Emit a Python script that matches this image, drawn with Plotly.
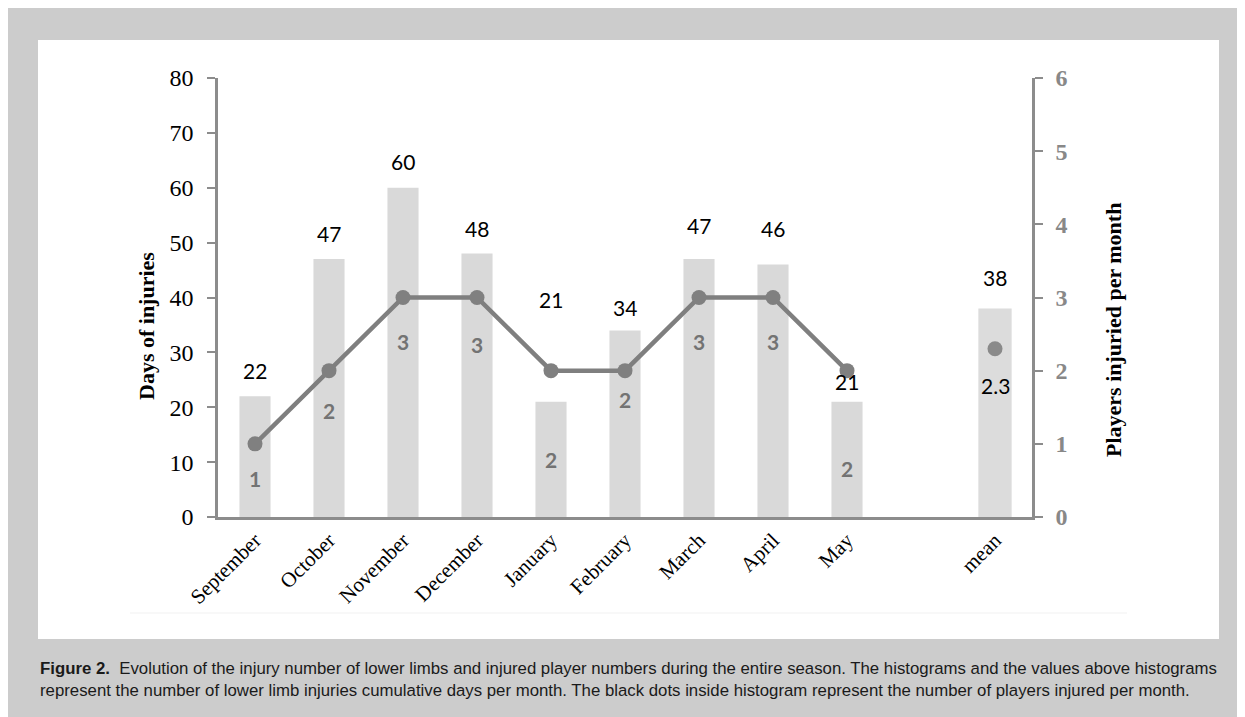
import plotly.graph_objects as go

# ---- data ----
categories = ["September", "October", "November", "December", "January",
              "February", "March", "April", "May", " ", "mean"]
months = categories[:9]
days = [22, 47, 60, 48, 21, 34, 47, 46, 21]
mean_days = 38
players = [1, 2, 3, 3, 2, 2, 3, 3, 2]
mean_players = 2.3

# label placement offsets (px) as in the original figure
day_label_shift = [26, 26, 26, 25, 102, 23, 34, 36, 20]
mean_day_label_shift = 31
player_label_shift = [-35, -40, -44, -47, -89, -29, -44, -44, -98]
mean_player_label_shift = -37

BAR = "#d9d9d9"
LINE = "#7f7f7f"
AX = "#8c8c8c"
FRAME = "#cccccc"

W, H = 1245, 717
PL, PR, PT, PB = 210, 1024, 70, 509   # plot area in figure pixels


def px_x(x):
    return (x - PL) / (PR - PL)


def px_y(y):
    return (PB - y) / (PB - PT)


fig = go.Figure()

fig.add_trace(go.Bar(x=months, y=days, marker=dict(color=BAR, line=dict(width=0)),
                     width=0.42, hoverinfo="skip", showlegend=False))
fig.add_trace(go.Bar(x=["mean"], y=[mean_days], marker=dict(color="#dcdcdc", line=dict(width=0)),
                     width=0.45, hoverinfo="skip", showlegend=False))

fig.add_trace(go.Scatter(x=months, y=players, yaxis="y2", mode="lines+markers",
                         line=dict(color=LINE, width=4.5),
                         marker=dict(color="#808080", size=15),
                         hoverinfo="skip", showlegend=False))
fig.add_trace(go.Scatter(x=["mean"], y=[mean_players], yaxis="y2", mode="markers",
                         marker=dict(color="#8a8a8a", size=15),
                         hoverinfo="skip", showlegend=False))

ann = []
lab_font = dict(family="Lato, Open Sans, sans-serif", size=21, color="#000000")
for m, d, s in zip(months, days, day_label_shift):
    ann.append(dict(x=m, y=d, xref="x", yref="y", text=str(d), showarrow=False,
                    yanchor="middle", yshift=s, font=lab_font))
ann.append(dict(x="mean", y=mean_days, xref="x", yref="y", text=str(mean_days),
                showarrow=False, yanchor="middle", yshift=mean_day_label_shift, font=lab_font))
pl_font = dict(family="Lato, Open Sans, sans-serif", size=21, color="#737373", weight="bold")
for m, p, s in zip(months, players, player_label_shift):
    ann.append(dict(x=m, y=p, xref="x", yref="y2", text=str(p), showarrow=False,
                    yanchor="middle", yshift=s, font=pl_font))
ann.append(dict(x="mean", y=mean_players, xref="x", yref="y2", text=str(mean_players),
                showarrow=False, yanchor="middle", yshift=mean_player_label_shift, font=lab_font))

title_font = dict(family="Liberation Serif, serif", size=22, color="#000", weight="bold")
ann.append(dict(x=px_x(138), y=px_y(318), xref="paper", yref="paper", text="Days of injuries",
                textangle=-90, showarrow=False, xanchor="center", yanchor="middle",
                font=title_font))
ann.append(dict(x=px_x(1105), y=px_y(322), xref="paper", yref="paper",
                text="Players injuried per month", textangle=-90, showarrow=False,
                xanchor="center", yanchor="middle", font=title_font))

# caption
cap_font = dict(family="Liberation Sans, Arial, sans-serif", size=16.8, color="#1a1a1a")
ann.append(dict(x=px_x(30), y=px_y(660), xref="paper", yref="paper", xanchor="left",
                yanchor="middle", showarrow=False, font=cap_font,
                text="<b>Figure 2.</b>  Evolution of the injury number of lower limbs and injured player numbers during the entire season. The histograms and the values above histograms"))
ann.append(dict(x=px_x(30), y=px_y(682), xref="paper", yref="paper", xanchor="left",
                yanchor="middle", showarrow=False, font=cap_font,
                text="represent the number of lower limb injuries cumulative days per month. The black dots inside histogram represent the number of players injured per month."))

shapes = [
    dict(type="rect", xref="paper", yref="paper", x0=px_x(30), x1=px_x(1211),
         y0=px_y(631), y1=px_y(32), fillcolor="white", line=dict(width=0), layer="below"),
    dict(type="line", xref="paper", yref="paper", x0=px_x(122), x1=px_x(1119),
         y0=px_y(605), y1=px_y(605), line=dict(color="#f1f1f1", width=1), layer="below"),
]

fig.update_layout(
    width=W, height=H,
    margin=dict(l=PL, r=W - PR, t=PT, b=H - PB, pad=0),
    paper_bgcolor=FRAME, plot_bgcolor="rgba(0,0,0,0)",
    showlegend=False,
    annotations=ann, shapes=shapes,
    xaxis=dict(type="category", categoryorder="array", categoryarray=categories,
               range=[-0.5, 10.5], showgrid=False, zeroline=False,
               showline=True, linecolor=AX, linewidth=2.5, ticks="",
               tickangle=-45, tickfont=dict(family="Liberation Serif, serif", size=21, color="#000")),
    yaxis=dict(range=[0, 80], tickvals=list(range(0, 81, 10)), showgrid=False, zeroline=False,
               showline=True, linecolor=AX, linewidth=2.5, ticks="outside", ticklen=8,
               tickcolor=AX, tickwidth=2, ticklabelstandoff=9,
               tickfont=dict(family="Liberation Serif, serif", size=24, color="#000")),
    yaxis2=dict(range=[0, 6], tickvals=list(range(0, 7)), overlaying="y", side="right",
                showgrid=False, zeroline=False, showline=True, linecolor=AX, linewidth=2.5,
                ticks="outside", ticklen=8, tickcolor=AX, tickwidth=2, ticklabelstandoff=8,
                tickfont=dict(family="Liberation Serif, serif", size=24, color="#888888",
                              weight="bold")),
)

fig.write_html("out.html")
